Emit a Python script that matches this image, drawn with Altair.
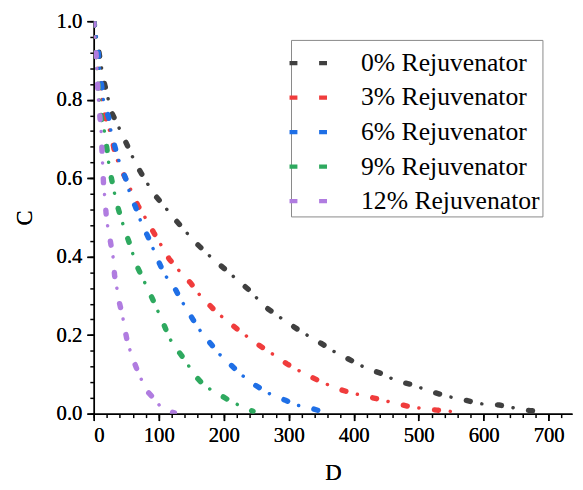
import altair as alt
import pandas as pd

series_names = ["0% Rejuvenator", "3% Rejuvenator", "6% Rejuvenator", "9% Rejuvenator", "12% Rejuvenator"]
series_colors = ["#404040", "#f03c3c", "#1f6fe6", "#2ea95f", "#b07ce0"]

d_0 = [0, 15, 27, 47, 65, 91, 124, 154, 180, 204, 241, 263, 292, 319, 350, 369, 390, 421, 447, 464, 487, 518, 544, 568, 587, 597, 624, 655, 670, 692]
c_0 = [1.0, 0.85, 0.769, 0.70, 0.635, 0.563, 0.497, 0.44, 0.399, 0.365, 0.312, 0.273, 0.239, 0.209, 0.179, 0.159, 0.141, 0.114, 0.10, 0.084, 0.075, 0.057, 0.044, 0.036, 0.028, 0.025, 0.022, 0.012, 0.008, 0.005]

d_3 = [0, 5, 10, 14, 21, 28, 32, 39, 52, 60, 68, 80, 93, 102, 116, 132, 149, 164, 185, 202, 229, 251, 276, 297, 326, 349, 372, 396, 425, 453, 483, 509, 528, 554]
c_3 = [1.0, 0.889, 0.847, 0.777, 0.738, 0.702, 0.667, 0.633, 0.589, 0.559, 0.53, 0.497, 0.459, 0.434, 0.394, 0.363, 0.333, 0.30, 0.265, 0.24, 0.205, 0.178, 0.151, 0.127, 0.10, 0.082, 0.065, 0.053, 0.042, 0.031, 0.019, 0.012, 0.009, 0.005]

d_6 = [0, 6.5, 8, 10, 13, 15, 23, 27, 34, 40, 50, 55, 67, 73, 86, 95, 109, 123, 133, 144, 155, 166, 181, 193, 211, 227, 249, 270, 295, 312, 336, 350]
c_6 = [1.0, 0.932, 0.893, 0.865, 0.823, 0.796, 0.754, 0.714, 0.671, 0.637, 0.595, 0.564, 0.515, 0.486, 0.442, 0.405, 0.354, 0.325, 0.293, 0.264, 0.233, 0.206, 0.176, 0.152, 0.124, 0.099, 0.072, 0.051, 0.034, 0.022, 0.013, 0.006]

d_9 = [0, 4, 8.6, 12.6, 17, 20, 24, 30, 35, 42, 48, 57, 64, 76, 85, 99, 106, 116, 128, 143, 154, 168, 180, 196, 210, 229, 245]
c_9 = [1.0, 0.9, 0.796, 0.74, 0.716, 0.677, 0.626, 0.576, 0.538, 0.497, 0.467, 0.424, 0.385, 0.342, 0.312, 0.26, 0.235, 0.193, 0.164, 0.13, 0.10, 0.075, 0.061, 0.046, 0.032, 0.017, 0.006]

d_12 = [0, 2.5, 3.5, 5.6, 6.5, 10, 11.7, 12.6, 15, 17.7, 19, 21.7, 24, 27, 30, 32, 35, 39, 44, 48, 52, 58, 62, 68, 73, 81, 93, 102, 114, 124]
c_12 = [1.0, 0.94, 0.918, 0.854, 0.812, 0.745, 0.71, 0.671, 0.585, 0.538, 0.508, 0.473, 0.455, 0.424, 0.396, 0.352, 0.325, 0.285, 0.251, 0.214, 0.18, 0.151, 0.132, 0.106, 0.088, 0.059, 0.038, 0.019, 0.007, 0.002]

x_major = [0, 100, 200, 300, 400, 500, 600, 700]
y_major = [0.0, 0.2, 0.4, 0.6, 0.8, 1.0]
x_minor = list(range(0, 740, 20))
y_minor = [round(i * 0.04, 2) for i in range(26)]

rows = []
for name, ds, cs in zip(series_names, [d_0, d_3, d_6, d_9, d_12], [c_0, c_3, c_6, c_9, c_12]):
    for i, (d, c) in enumerate(zip(ds, cs)):
        rows.append({"series": name, "D": d, "C": c, "idx": i})
df = pd.DataFrame(rows)

FONT = "Liberation Serif"

legend = alt.Legend(
    title=None, orient="none", legendX=200, legendY=19,
    symbolType="stroke", symbolSize=1444, symbolStrokeWidth=4.5, symbolDash=[8, 22], symbolOffset=-6,
    labelFont=FONT, labelFontSize=26, labelColor="black", labelOffset=32, labelLimit=400,
    rowPadding=-6.7, padding=2, strokeColor="#888888", fillColor="white",
)

color = alt.Color("series:N", scale=alt.Scale(domain=series_names, range=series_colors), legend=legend)

xscale = alt.Scale(domain=[0, 736], nice=False)
yscale = alt.Scale(domain=[0, 1], nice=False)

axis_common = dict(
    grid=False, labelFont=FONT, labelFontSize=21, labelColor="black",
    titleFont=FONT, titleFontSize=23, titleFontWeight="normal", titleColor="black",
    domainColor="black", domainWidth=1.5, tickColor="black", tickWidth=1.5,
)

x_main = alt.X("D:Q", title="D", scale=xscale,
               axis=alt.Axis(values=x_major, format="d", tickSize=7, labelPadding=4, titlePadding=17, orient="bottom", **axis_common))
y_main = alt.Y("C:Q", title="C", scale=yscale,
               axis=alt.Axis(values=y_major, format=".1f", tickSize=7, labelPadding=5, titlePadding=20, orient="left", **axis_common))

x_min = alt.X("D:Q", title=None, scale=xscale,
              axis=alt.Axis(values=x_minor, tickSize=4, labels=False, domain=False, orient="bottom", grid=False,
                            tickColor="black", tickWidth=1.5))
y_min = alt.Y("C:Q", title=None, scale=yscale,
              axis=alt.Axis(values=y_minor, tickSize=4, labels=False, domain=False, orient="left", grid=False,
                            tickColor="black", tickWidth=1.5))

main = alt.Chart(df).encode(x=x_main, y=y_main, color=color, order=alt.Order("idx:Q"), detail="series:N")

dashes = main.mark_line(strokeWidth=5.5, strokeCap="round", strokeDash=[4, 28], clip=True)
dots = main.mark_line(strokeWidth=3.5, strokeCap="round", strokeDash=[0.1, 31.9], strokeDashOffset=-16, clip=True)

minor = alt.Chart(df).mark_point(opacity=0, size=1).encode(x=x_min, y=y_min)

chart = alt.layer(dashes, dots, minor).resolve_axis(x="independent", y="independent").properties(
    width=485, height=398,
    autosize=alt.AutoSizeParams(type="none"),
    padding={"left": 87, "top": 10, "right": 3, "bottom": 70},
).configure_view(stroke=None)

chart.save("out.html", embed_options={"renderer": "svg", "actions": False})
